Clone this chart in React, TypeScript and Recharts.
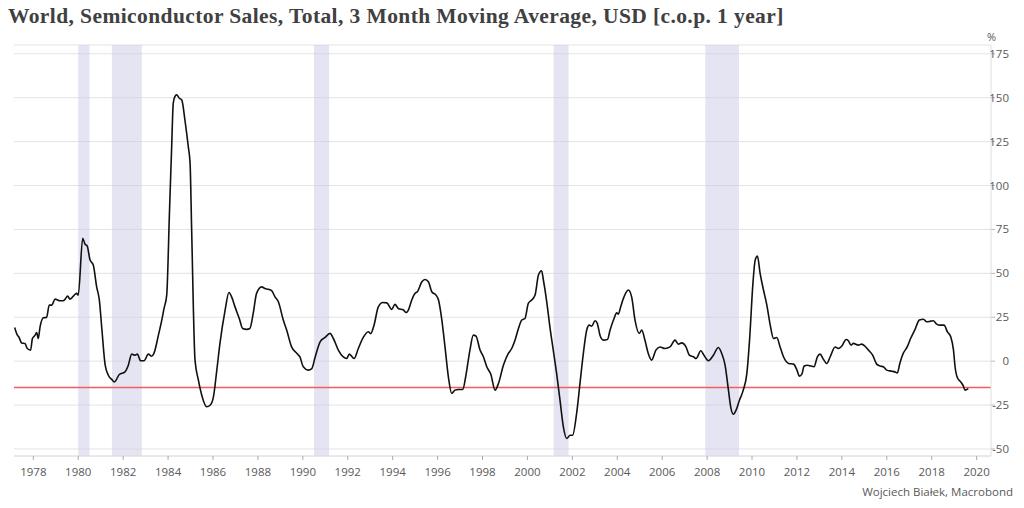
import {
  ComposedChart,
  Line,
  XAxis,
  YAxis,
  CartesianGrid,
  ReferenceArea,
  ReferenceLine,
} from 'recharts';

// decimal year of each reading
const years = [
  1977.17, 1977.29, 1977.35, 1977.48, 1977.63, 1977.73, 1977.88, 1977.96,
  1978.08, 1978.15, 1978.22, 1978.3, 1978.45, 1978.59, 1978.71, 1978.82, 1978.97,
  1979.19, 1979.34, 1979.41, 1979.53, 1979.63, 1979.78, 1979.93,
  1980.0, 1980.2, 1980.3, 1980.4, 1980.52, 1980.67, 1980.82, 1980.94,
  1981.05, 1981.2, 1981.34, 1981.49, 1981.61, 1981.83,
  1982.08, 1982.23, 1982.38, 1982.53, 1982.63, 1982.78, 1982.93,
  1983.12, 1983.27, 1983.37, 1983.57, 1983.72, 1983.82, 1983.94,
  1984.06, 1984.16, 1984.23, 1984.3, 1984.38, 1984.5, 1984.61, 1984.75, 1984.9, 1984.98,
  1985.05, 1985.2, 1985.35, 1985.5, 1985.72, 1985.87,
  1986.02, 1986.17, 1986.31, 1986.54, 1986.71, 1986.83, 1986.98,
  1987.17, 1987.32, 1987.5, 1987.64, 1987.79, 1987.94,
  1988.17, 1988.31, 1988.46, 1988.61, 1988.76, 1988.91,
  1989.13, 1989.28, 1989.5, 1989.73, 1989.87,
  1990.02, 1990.24, 1990.4, 1990.55, 1990.77, 1990.99,
  1991.21, 1991.36, 1991.58, 1991.8, 1991.95,
  1992.07, 1992.28, 1992.47, 1992.69, 1992.92,
  1993.02, 1993.17, 1993.36, 1993.56, 1993.74, 1993.96,
  1994.1, 1994.25, 1994.48, 1994.6, 1994.7, 1994.85,
  1995.0, 1995.1, 1995.3, 1995.44, 1995.59, 1995.74, 1995.93,
  1996.04, 1996.19, 1996.33, 1996.48, 1996.63, 1996.77, 1996.92,
  1997.12, 1997.25, 1997.44, 1997.59, 1997.71, 1997.89,
  1998.04, 1998.19, 1998.37, 1998.56, 1998.71, 1998.93,
  1999.15, 1999.3, 1999.45, 1999.6, 1999.75, 1999.89,
  2000.04, 2000.19, 2000.34, 2000.49, 2000.63, 2000.71, 2000.86,
  2001.0, 2001.15, 2001.3, 2001.45, 2001.6, 2001.75, 2001.9,
  2002.01, 2002.19, 2002.34, 2002.49, 2002.64, 2002.75, 2002.86,
  2003.01, 2003.11, 2003.23, 2003.38, 2003.56, 2003.68, 2003.83, 2003.98,
  2004.05, 2004.15, 2004.3, 2004.49, 2004.64, 2004.79, 2004.98,
  2005.09, 2005.23, 2005.38, 2005.53, 2005.72, 2005.9,
  2006.12, 2006.35, 2006.57, 2006.72, 2006.87,
  2007.06, 2007.21, 2007.39, 2007.51, 2007.72, 2007.86,
  2008.06, 2008.28, 2008.5, 2008.65, 2008.8, 2008.95,
  2009.05, 2009.17, 2009.29, 2009.44, 2009.61, 2009.77, 2009.89,
  2010.04, 2010.14, 2010.24, 2010.36, 2010.51, 2010.66, 2010.81, 2010.96,
  2011.1, 2011.25, 2011.4, 2011.63, 2011.85,
  2012.0, 2012.11, 2012.22, 2012.32, 2012.47, 2012.62, 2012.76, 2012.91,
  2013.03, 2013.18, 2013.33, 2013.48, 2013.7, 2013.84, 2013.99,
  2014.19, 2014.29, 2014.41, 2014.51, 2014.73, 2014.88,
  2015.03, 2015.18, 2015.37, 2015.55, 2015.7, 2015.85,
  2016.0, 2016.22, 2016.36, 2016.47, 2016.58, 2016.73, 2016.91,
  2017.06, 2017.26, 2017.45, 2017.63, 2017.78, 2017.96,
  2018.07, 2018.22, 2018.37, 2018.55, 2018.7, 2018.85, 2018.97,
  2019.04, 2019.14, 2019.29, 2019.41, 2019.48, 2019.63,
];

// y/y change, %
const sales = [
  19.2, 14.8, 13.9, 10.4, 10, 7.2, 6.3, 12.9,
  14.8, 16.3, 12.9, 19.5, 24.7, 24.9, 31.9, 31.9, 35.3,
  34.4, 34.4, 35.2, 37, 35.3, 37, 38.6,
  37.6, 69.9, 66.7, 65.5, 57.9, 54.7, 42.3, 34.8,
  18.6, -2.3, -8, -10.4, -11.8, -7.6,
  -6.1, -2.3, 4, 3.4, 4, 0.2, 0.2,
  4, 2.8, 4.4, 14.8, 23.4, 30, 37.6,
  84.1, 122.1, 146.8, 150.5, 151.6, 149.7, 148.7, 137.3, 122.1, 112.6,
  74.6, 0.6, -10.8, -19.4, -26, -25.1,
  -20.3, -5.1, 10.1, 29.1, 39.1, 36.6, 30.9,
  24.3, 18.6, 18.1, 18.6, 27.2, 38.6,
  42.3, 41.4, 40.9, 40.1, 36.6, 33.8,
  23.4, 17.7, 8.1, 4.5, 2.4,
  -3.2, -5.1, -4.2, 2.4, 11, 13.5,
  15.8, 12.9, 6.3, 2.4, 1.5,
  4, 1.5, 7.2, 13.5, 16.7,
  15.7, 20.5, 30.9, 33.4, 33.2, 29.5,
  32.3, 30, 29.1, 27.7, 29.1, 34.8,
  38.6, 39.5, 45.2, 46.5, 45.2, 39.5, 37.6,
  34.8, 23.4, 8.1, -8.9, -18.4, -16.5, -16.1,
  -16.1, -8.9, 6.3, 14.8, 14.2, 6.3,
  2.5, -3.2, -7.5, -16.5, -12.7, -2.3,
  4.4, 7.2, 12, 18.6, 23.4, 24.3,
  32.9, 34.8, 37.6, 49, 51.5, 46.2, 33.8,
  19.5, 6.3, -7, -22.2, -37.4, -44, -42.2,
  -42.2, -29.8, -12.7, 4.4, 17.7, 20.5, 19.9,
  23, 21.5, 14.8, 12, 12.3, 17.7, 23.4, 27.5,
  26.8, 30.9, 36.6, 40.5, 36.6, 23.4, 15.8,
  17.7, 12, 4.4, 0.6, 6.3, 8.1,
  7.2, 8.1, 12, 9.7, 10.4,
  8.1, 3.4, 2.5, 1.5, 5.9, 3.4,
  0.2, 3.4, 7.8, 4.4, -2.3, -16.5,
  -26, -30.2, -27.9, -22.2, -16.5, -7, 12,
  44.3, 57.5, 59.8, 50, 40.5, 31.9, 20.5, 12.9,
  13.5, 8.1, 2.5, -1.3, -1.7,
  -5.1, -8.5, -7.4, -2.8, -2.3, -2.8, -3.2, 2.5,
  4, 1, -1.3, 2.5, 8.1, 7.2, 8.5,
  12.3, 11.6, 9.1, 10.1, 9.1, 9.7,
  8.5, 6.3, 3.4, -1.7, -2.8, -3.2,
  -5.1, -5.7, -6.1, -6.7, -1.3, 4.4, 8.1,
  12.9, 18.1, 23.4, 23.9, 22.4, 22.8,
  23, 21.1, 20.5, 20.5, 16.7, 13.8, 6.3,
  -3.2, -9.3, -11.8, -14.2, -16.5, -15.6,
];

// US recessions (start, end)
const recessionStart = [1980.0, 1981.5, 1990.5, 2001.17, 2007.92];
const recessionEnd = [1980.5, 1982.83, 1991.17, 2001.83, 2009.42];

const xTicks = [
  1978, 1980, 1982, 1984, 1986, 1988, 1990, 1992, 1994, 1996, 1998,
  2000, 2002, 2004, 2006, 2008, 2010, 2012, 2014, 2016, 2018, 2020,
];
const yTicks = [-50, -25, 0, 25, 50, 75, 100, 125, 150, 175];
const threshold = -15;

const data = years.map((t, i) => ({ t, v: sales[i] }));

const labelFont = "'Open Sans', sans-serif";

const XTick = ({ x, payload }: any) => (
  <text x={x} y={476} textAnchor="middle" fontSize={11.5} fill="#595959" fontFamily={labelFont}>
    {payload.value}
  </text>
);

const YTick = ({ y, payload }: any) => (
  <text x={1009} y={y + 4} textAnchor="end" fontSize={11.5} fill="#595959" fontFamily={labelFont}>
    {payload.value}
  </text>
);

const RedLine = (props: any) => (
  <line
    x1={props.x1}
    y1={props.y1}
    x2={props.x2}
    y2={props.y2}
    stroke="#f25c5c"
    strokeWidth={1.3}
  />
);

export default function App() {
  return (
    <div
      style={{
        position: 'absolute',
        left: 0,
        top: 0,
        width: 1024,
        height: 508,
        background: '#fff',
        overflow: 'hidden',
      }}
    >
      <div
        style={{
          position: 'absolute',
          left: 8,
          top: 4,
          fontFamily: "'Liberation Serif', serif",
          fontWeight: 'bold',
          fontSize: 21.5,
          letterSpacing: 0.4,
          color: '#404040',
          whiteSpace: 'nowrap',
        }}
      >
        World, Semiconductor Sales, Total, 3 Month Moving Average, USD [c.o.p. 1 year]
      </div>
      <div
        style={{
          position: 'absolute',
          left: 987,
          top: 29,
          fontFamily: labelFont,
          fontSize: 11,
          color: '#595959',
        }}
      >
        %
      </div>
      <div
        style={{
          position: 'absolute',
          right: 11,
          top: 484,
          fontFamily: labelFont,
          fontSize: 11.5,
          color: '#595959',
        }}
      >
        Wojciech Białek, Macrobond
      </div>
      <ComposedChart
        width={1024}
        height={508}
        data={data}
        margin={{ top: 45, right: 0, bottom: 30, left: 14 }}
      >
        {recessionStart.map((s, i) => (
          <ReferenceArea
            key={s}
            x1={s}
            x2={recessionEnd[i]}
            fill="#c9c9e6"
            fillOpacity={0.5}
            stroke="none"
          />
        ))}
        <CartesianGrid horizontal vertical={false} stroke="#e3e3e3" />
        <XAxis
          dataKey="t"
          type="number"
          domain={[1977.14, 2020.64]}
          ticks={xTicks}
          allowDataOverflow
          height={22}
          tick={<XTick />}
          tickSize={4}
          axisLine={{ stroke: '#e0e0e0' }}
          tickLine={{ stroke: '#aaa' }}
        />
        <YAxis
          orientation="right"
          type="number"
          domain={[-54, 180]}
          ticks={yTicks}
          allowDataOverflow
          width={33}
          tick={<YTick />}
          tickSize={4}
          axisLine={{ stroke: '#e0e0e0' }}
          tickLine={{ stroke: '#bbb' }}
        />
        <ReferenceLine y={threshold} stroke="#f25c5c" shape={RedLine} />
        <Line
          dataKey="v"
          type="monotone"
          stroke="#111"
          strokeWidth={1.6}
          dot={false}
          isAnimationActive={false}
        />
      </ComposedChart>
    </div>
  );
}
